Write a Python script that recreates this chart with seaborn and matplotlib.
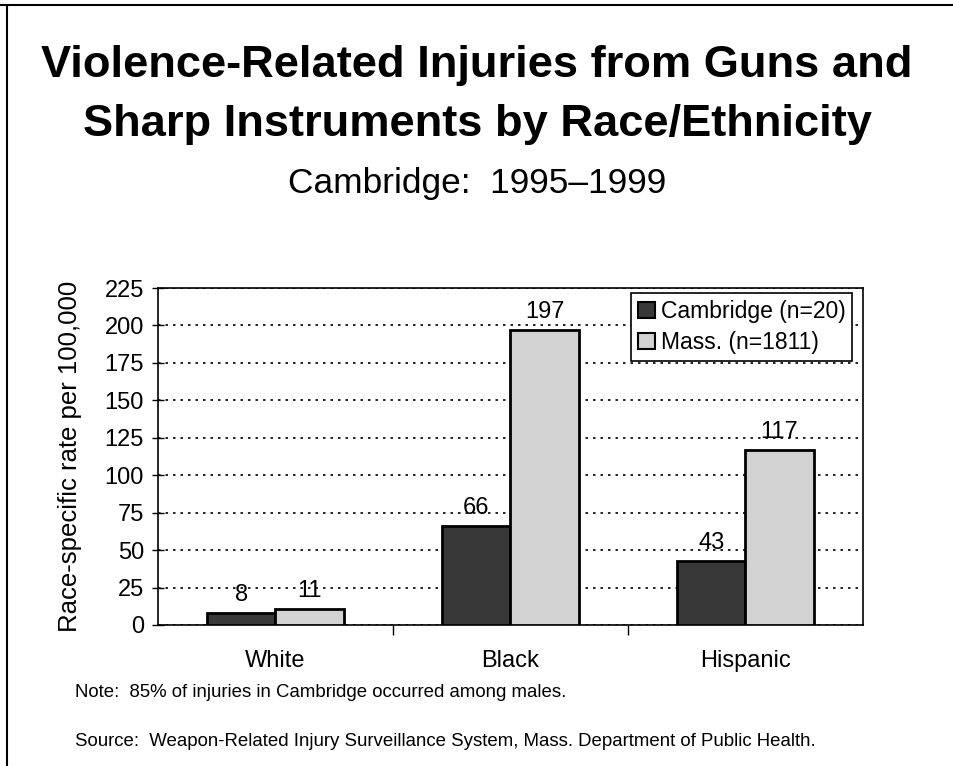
import matplotlib
matplotlib.use("Agg")
import matplotlib.pyplot as plt
from matplotlib import font_manager
from matplotlib.lines import Line2D
from matplotlib.patches import Patch
import seaborn as sns
import pandas as pd

groups = ["White", "Black", "Hispanic"]
series = ["Cambridge (n=20)", "Mass. (n=1811)"]
cambridge = [8, 66, 43]
mass = [11, 197, 117]
y_ticks = [0, 25, 50, 75, 100, 125, 150, 175, 200, 225]

df = pd.DataFrame({
    "group": groups * 2,
    "series": [series[0]] * 3 + [series[1]] * 3,
    "rate": cambridge + mass,
})

sns.set_theme(style="white")
plt.rcParams["font.family"] = ["Liberation Sans", "DejaVu Sans"]
plt.rcParams["text.color"] = "black"
plt.rcParams["axes.labelcolor"] = "black"
plt.rcParams["xtick.color"] = "black"
plt.rcParams["ytick.color"] = "black"
names = {f.name for f in font_manager.fontManager.ttflist}
narrow = "Liberation Sans Narrow" if "Liberation Sans Narrow" in names else "Liberation Sans"

fig = plt.figure(figsize=(9.54, 7.66), dpi=100)
ax = fig.add_axes([0.1656, 0.1841, 0.739, 0.4399])

palette = {series[0]: "#383838", series[1]: "#d2d2d2"}
sns.barplot(data=df, x="group", y="rate", hue="series", order=groups,
            hue_order=series, palette=palette, width=0.58, gap=0,
            edgecolor="black", linewidth=2, saturation=1, ax=ax, zorder=3)

for cont in ax.containers:
    ax.bar_label(cont, fmt="%d", padding=5, fontsize=17, color="black")

ax.set_ylim(0, 225)
ax.set_yticks(y_ticks)
ax.set_yticklabels([str(v) for v in y_ticks])
ax.set_xlim(-0.5, 2.5)
ax.set_xticks([0.5, 1.5], minor=True)
ax.set_xticks(range(len(groups)))
ax.set_xticklabels(groups)
ax.tick_params(axis="x", which="major", length=0, labelsize=17, pad=18, bottom=True)
ax.tick_params(axis="x", which="minor", length=7, width=1, direction="out",
               color="black", bottom=True)
ax.tick_params(axis="y", length=8, width=1, direction="inout", labelsize=17, pad=6,
               color="black", left=True)
ax.yaxis.grid(True, linestyle=(0, (1.5, 3)), color="black", linewidth=1.2, zorder=0)
ax.xaxis.grid(False)
for s in ax.spines.values():
    s.set_color("black")
    s.set_linewidth(1.2)
ax.set_xlabel("")
ax.set_ylabel("Race-specific rate per 100,000", fontsize=18.5, labelpad=16)

handles = [Patch(facecolor=palette[s], edgecolor="black", linewidth=1.5) for s in series]
ax.legend(handles, series, loc="upper right", bbox_to_anchor=(0.985, 0.985),
          fontsize=16.5, frameon=True, fancybox=False, framealpha=1,
          edgecolor="black", handlelength=0.75, handleheight=0.75,
          handletextpad=0.25, borderpad=0.3, labelspacing=0.35, borderaxespad=0)
ax.get_legend().get_frame().set_linewidth(1.2)

fig.text(0.5, 0.915, "Violence-Related Injuries from Guns and",
         ha="center", va="center", fontsize=32.6, fontweight="bold")
fig.text(0.5, 0.837, "Sharp Instruments by Race/Ethnicity",
         ha="center", va="center", fontsize=32.6, fontweight="bold")
fig.text(0.5, 0.761, "Cambridge:  1995\u20131999", ha="center", va="center", fontsize=25.4)

fig.text(0.0786, 0.096, "Note:  85% of injuries in Cambridge occurred among males.",
         ha="left", va="center", fontsize=13.4, family=[narrow, "DejaVu Sans"])
fig.text(0.0786, 0.032, "Source:  Weapon-Related Injury Surveillance System, Mass. Department of Public Health.",
         ha="left", va="center", fontsize=13.4, family=[narrow, "DejaVu Sans"])

# page frame along top and left edges
fig.add_artist(Line2D([0, 1], [0.9935, 0.9935], transform=fig.transFigure, color="black", linewidth=1.5))
fig.add_artist(Line2D([0.0073, 0.0073], [0, 0.9935], transform=fig.transFigure, color="black", linewidth=1.5))

fig.savefig("out.png", dpi=100)
